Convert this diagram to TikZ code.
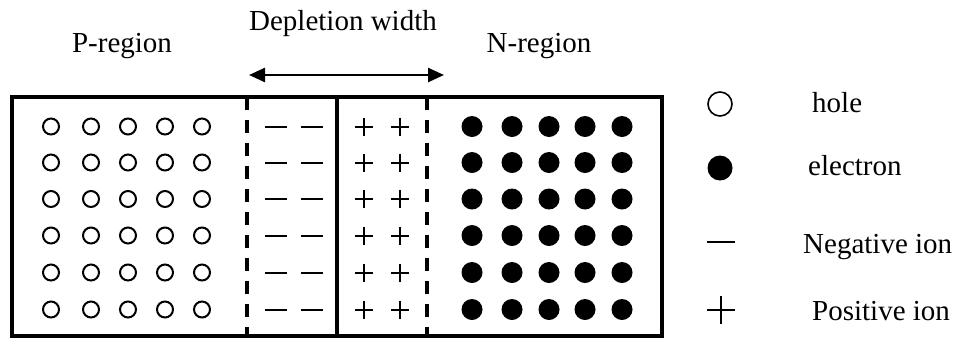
\documentclass[tikz,border=0pt]{standalone}
\usepackage{fontspec}
\setmainfont{Liberation Serif}
\usetikzlibrary{arrows.meta}
\tikzset{
  lbl/.style={inner sep=0pt, font=\fontsize{29}{32}\selectfont},
  holept/.style={circle, draw, line width=2pt, minimum size=16pt, inner sep=0pt},
  elecpt/.style={circle, fill, minimum size=21pt, inner sep=0pt},
  holelg/.style={circle, draw, line width=1.6pt, minimum size=24pt, inner sep=0pt},
  eleclg/.style={circle, fill, minimum size=25pt, inner sep=0pt},
  boxline/.style={line width=4pt},
  dashline/.style={line width=4pt, dash pattern=on 13pt off 10pt},
  signline/.style={line width=2pt},
  lgsign/.style={line width=1.5pt},
}
\begin{document}
\begin{tikzpicture}[x=1pt,y=-1pt]
\useasboundingbox (0,0) rectangle (964,341);
% box
\draw[boxline] (12,97) rectangle (662,336);
\draw[boxline] (337,97) -- (337,336);
\draw[dashline] (247,97) -- (247,336);
\draw[dashline] (427,97) -- (427,336);
% titles
\node[lbl, anchor=base] (ptitle) at (122,52) {P-region};
\node[lbl, anchor=base] (ntitle) at (539,52) {N-region};
\node[lbl, anchor=base] (dtitle) at (343,30) {Depletion width};
\coordinate (al) at (249,75);
\coordinate (ar) at (444,75);
\draw[line width=2.5pt, {Triangle[length=16pt,width=14pt]}-{Triangle[length=16pt,width=14pt]}] (al) -- (ar);
% grid
\foreach \r/\y in {1/126.5,2/162.5,3/199,4/235.5,5/272.5,6/309.5}{
  \foreach \c/\x in {1/51,2/91,3/128,4/165,5/202}{
    \node[holept] (h\r\c) at (\x,\y) {};
  }
  \foreach \c/\x in {1/472,2/512,3/549,4/585,5/622}{
    \node[elecpt] (e\r\c) at (\x,\y) {};
  }
  \foreach \c/\x in {1/276,2/312}{
    \draw[signline] (\x-11,\y) -- (\x+11,\y);
  }
  \foreach \c/\x in {1/364,2/400}{
    \draw[signline] (\x-9,\y) -- (\x+9,\y) (\x,\y-9) -- (\x,\y+9);
  }
}
% legend
\node[holelg] (lghole) at (720,104) {};
\node[eleclg] (lgelec) at (720,168) {};
\draw[lgsign] (707,242) -- (735,242);
\draw[lgsign] (707,310) -- (735,310) (721,296) -- (721,324);
\node[lbl, anchor=base west] (thole) at (812,112) {hole};
\node[lbl, anchor=base west] (telec) at (808,175) {electron};
\node[lbl, anchor=base west] (tneg) at (803,253) {Negative ion};
\node[lbl, anchor=base west] (tpos) at (812,320) {Positive ion};
\end{tikzpicture}
\end{document}
